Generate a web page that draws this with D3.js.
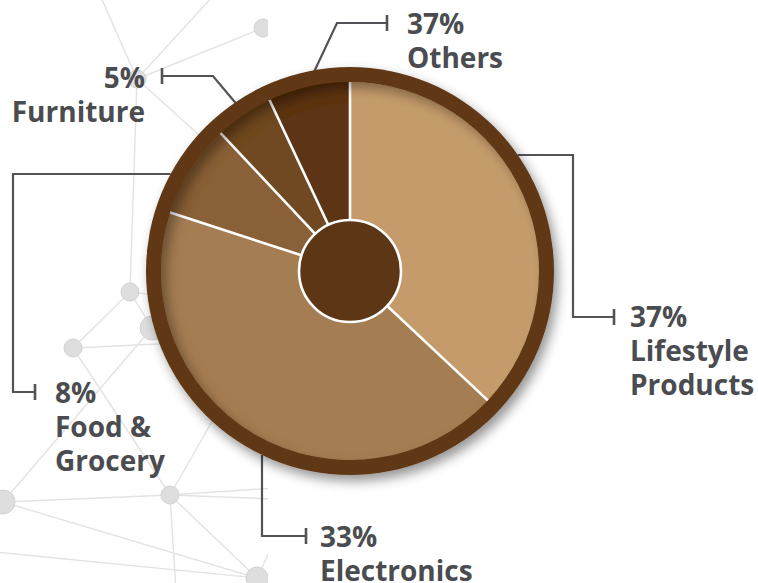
<!DOCTYPE html>
<html>
<head>
<meta charset="utf-8">
<script src="https://cdn.jsdelivr.net/npm/d3@7"></script>
<style>
  html, body { margin: 0; padding: 0; background: #ffffff; }
  svg { display: block; }
  .lbl { font-family: "Open Sans", "Noto Sans", sans-serif; font-weight: 700; font-size: 28px; fill: #4a4c4f; }
</style>
</head>
<body>
<script>
// Sales share by category (slice shares) and the printed labels
const categories = ["Lifestyle Products", "Electronics", "Food & Grocery", "Furniture", "Others"];
const shares = [37, 43, 8, 5, 7];
const percentLabels = ["37%", "33%", "8%", "5%", "37%"];
const sliceColors = ["#c59b6c", "#a57d52", "#8a6038", "#704824", "#5d3515"];

// Decorative network in the background
const netNodes = [
  [263, 28, 9], [137, 79, 9], [130, 292, 9], [152, 328, 12], [73, 348, 9],
  [3, 502, 12], [170, 495, 9], [257, 578, 11]
];
const netEdges = [
  [[137, 79], [100, -5]], [[137, 79], [214, -5]], [[137, 79], [263, 28]],
  [[137, 79], [130, 292]], [[137, 79], [260, 190]], [[130, 292], [152, 328]],
  [[130, 292], [73, 348]], [[130, 292], [200, 300]], [[73, 348], [200, 342]],
  [[73, 348], [170, 495]], [[152, 328], [3, 502]], [[3, 502], [170, 495]],
  [[170, 495], [275, 488]], [[170, 495], [275, 499]], [[170, 495], [257, 578]],
  [[170, 495], [176, 590]], [[3, 502], [257, 578]], [[-5, 552], [257, 578]],
  [[170, 495], [230, 390]], [[257, 578], [275, 540]], [[230, 400], [275, 470]]
];

const W = 758, H = 583;
const cx = 350, cy = 271;
const rHole = 51, rPie = 189, rRing = 204;

const svg = d3.select("body").append("svg").attr("width", W).attr("height", H);
const defs = svg.append("defs");

defs.append("clipPath").attr("id", "netClip")
  .append("rect").attr("x", 0).attr("y", 0).attr("width", 268).attr("height", H);

const drop = defs.append("filter").attr("id", "drop")
  .attr("x", "-20%").attr("y", "-20%").attr("width", "140%").attr("height", "140%");
drop.append("feDropShadow").attr("dx", 4).attr("dy", 6)
  .attr("stdDeviation", 6).attr("flood-color", "#000").attr("flood-opacity", 0.42);

// inner shadow along the upper-left rim of the pie
const inner = defs.append("filter").attr("id", "inner")
  .attr("x", "-10%").attr("y", "-10%").attr("width", "120%").attr("height", "120%");
inner.append("feGaussianBlur").attr("in", "SourceAlpha").attr("stdDeviation", 6).attr("result", "blur");
inner.append("feOffset").attr("in", "blur").attr("dx", 6).attr("dy", 7).attr("result", "off");
inner.append("feComposite").attr("in", "SourceAlpha").attr("in2", "off")
  .attr("operator", "arithmetic").attr("k2", 1).attr("k3", -1).attr("result", "diff");
inner.append("feFlood").attr("flood-color", "#000").attr("flood-opacity", 0.6).attr("result", "col");
inner.append("feComposite").attr("in", "col").attr("in2", "diff").attr("operator", "in").attr("result", "shadow");
const merge = inner.append("feMerge");
merge.append("feMergeNode").attr("in", "SourceGraphic");
merge.append("feMergeNode").attr("in", "shadow");

// background network
const net = svg.append("g").attr("clip-path", "url(#netClip)");
net.selectAll("line").data(netEdges).join("line")
  .attr("x1", d => d[0][0]).attr("y1", d => d[0][1])
  .attr("x2", d => d[1][0]).attr("y2", d => d[1][1])
  .attr("stroke", "#e3e3e3").attr("stroke-width", 1.4);
net.selectAll("circle").data(netNodes).join("circle")
  .attr("cx", d => d[0]).attr("cy", d => d[1]).attr("r", d => d[2])
  .attr("fill", "#dedede").attr("stroke", "#d2d2d2").attr("stroke-width", 1);

// pie layout, clockwise from 12 o'clock
const pie = d3.pie().sort(null).value(d => d)(shares);
const pt = (a, r) => [cx + r * Math.sin(a), cy - r * Math.cos(a)];
const mid = d => (d.startAngle + d.endAngle) / 2;

// leader lines: start on the ring, route to the label ticks
const ringAtY = (y, side) => [cx + side * Math.sqrt(rRing * rRing - (y - cy) ** 2), y];
const ringAtX = (x) => [x, cy + Math.sqrt(rRing * rRing - (x - cx) ** 2)];
const leaders = [
  { pts: [ringAtY(155, 1), [573, 155], [573, 317], [614, 317]], tick: [614, 317] },
  { pts: [ringAtX(262), [262, 536], [306, 536]], tick: [306, 536] },
  { pts: [ringAtY(174, -1), [13, 174], [13, 392], [35, 392]], tick: [35, 392] },
  { pts: [pt(mid(pie[3]), rRing - 2), [213, 76], [162, 76]], tick: [162, 76] },
  { pts: [pt(mid(pie[4]) + 0.04, rRing - 2), [337, 23], [387, 23]], tick: [387, 23] }
];
const lg = svg.append("g").attr("stroke", "#515356").attr("stroke-width", 2.2).attr("fill", "none");
leaders.forEach(l => {
  lg.append("path").attr("d", d3.line()(l.pts)).attr("stroke-linejoin", "miter");
  lg.append("line").attr("x1", l.tick[0]).attr("x2", l.tick[0])
    .attr("y1", l.tick[1] - 8).attr("y2", l.tick[1] + 8).attr("stroke-width", 2.6);
});

// ring with drop shadow
svg.append("circle").attr("cx", cx).attr("cy", cy).attr("r", rRing)
  .attr("fill", "#613815").attr("filter", "url(#drop)");

// slices
const arc = d3.arc().innerRadius(0).outerRadius(rPie);
const sg = svg.append("g").attr("transform", `translate(${cx},${cy})`).attr("filter", "url(#inner)");
sg.selectAll("path").data(pie).join("path")
  .attr("d", arc).attr("fill", (d, i) => sliceColors[i]);
sg.selectAll("line").data(pie).join("line")
  .attr("x1", 0).attr("y1", 0)
  .attr("x2", d => rPie * Math.sin(d.startAngle))
  .attr("y2", d => -rPie * Math.cos(d.startAngle))
  .attr("stroke", "#ffffff").attr("stroke-width", 2.6);

// center hub
svg.append("circle").attr("cx", cx).attr("cy", cy).attr("r", rHole)
  .attr("fill", "#5d3616").attr("stroke", "#ffffff").attr("stroke-width", 2.6);

// labels
const labelPos = [
  { x: 630, y: 327, anchor: "start" },
  { x: 320, y: 547, anchor: "start" },
  { x: 55, y: 403, anchor: "start" },
  { x: 145, y: 88, anchor: "end" },
  { x: 407, y: 34, anchor: "start" }
];
const lineGap = 34;
categories.forEach((c, i) => {
  const p = labelPos[i];
  const words = c === "Food & Grocery" ? ["Food &", "Grocery"] : c.split(" ");
  const t = svg.append("text").attr("class", "lbl").attr("text-anchor", p.anchor)
    .attr("x", p.x).attr("y", p.y);
  t.append("tspan").attr("x", p.x).attr("dy", 0).text(percentLabels[i]);
  words.forEach(w => t.append("tspan").attr("x", p.x).attr("dy", lineGap).text(w));
});
</script>
</body>
</html>
